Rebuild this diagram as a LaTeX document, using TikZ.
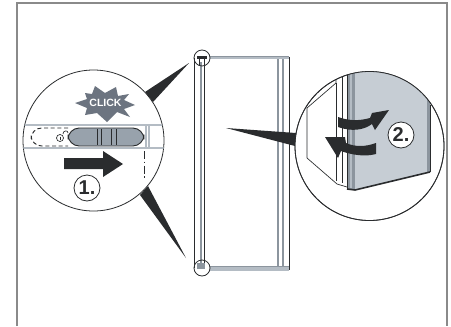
\documentclass[tikz,border=0pt]{standalone}
\usepackage{fontspec}
\setmainfont{Liberation Sans}
\definecolor{cframe}{HTML}{8A8A8A}
\definecolor{cband}{HTML}{B4BCC4}
\definecolor{cslide}{HTML}{98A2AC}
\definecolor{cstar}{HTML}{6C7480}
\definecolor{cpanel}{HTML}{C6CDD4}
\definecolor{cedge}{HTML}{8C959E}
\definecolor{cink}{HTML}{2A2C2E}
\tikzset{
  every picture/.style={x=0.75pt, y=-0.75pt},
  lens/.style={draw=cink, fill=white, line width=0.6pt},
  pointer/.style={fill=cink},
  band/.style={draw=cband, line width=1.1pt},
  inkline/.style={draw=cink, line width=0.7pt},
  stepmark/.style={circle, draw=cink, fill=white, line width=0.6pt, minimum size=19.5pt, inner sep=0pt, font=\fontsize{15}{16}\selectfont\bfseries, text=cink},
}
\begin{document}
\begin{tikzpicture}
  \useasboundingbox (0,0) rectangle (451,326);
  \draw[cframe, line width=1.3pt] (17,326) -- (17,3) -- (447,3) -- (447,326);
  % door
  \draw[inkline] (194.5,58) -- (194.5,268);
  \draw[cedge, line width=1.6pt] (201,62) -- (201,264);
  \draw[inkline] (204.5,62) -- (204.5,264);
  \draw[cband, line width=2pt] (210,58) -- (289,58);
  \draw[cedge, line width=0.5pt] (210,56.5) -- (289,56.5);
  \fill[cband] (210,266) rectangle (289,271);
  \draw[cedge, line width=0.5pt] (210,266) -- (289,266);
  \draw[cedge, line width=1.6pt] (278,59) -- (278,266);
  \draw[cedge, line width=1.2pt] (283,59) -- (283,266);
  \draw[inkline] (289,57) -- (289,270);
  \fill[cedge] (197,263) rectangle (205,269);
  \draw[lens, fill=none] (202,58) circle (8);
  \draw[lens, fill=none] (202,268) circle (8);
  \fill[cink] (197,56) rectangle (207,59);
  \draw[inkline] (199.5,59) -- (199.5,66) (204.5,59) -- (204.5,66);
  % pointers
  \fill[pointer] (189,63) -- (145,92) -- (153,102) -- cycle;
  \fill[pointer] (186,258) -- (140,195) -- (148,186) -- cycle;
  \fill[pointer] (226,128) -- (296,133) -- (295,146) -- cycle;
  % left lens
  \draw[lens] (93.5,140.5) circle (70.5);
  \begin{scope}
    \clip (93.5,140.5) circle (70.5);
    \draw[band] (20,125) -- (170,125);
    \draw[band] (20,148) -- (170,148);
    \draw[band] (146,125) -- (146,148);
    \draw[band] (149,125) -- (149,148);
  \end{scope}
  \draw[inkline, densely dashed, rounded corners=8pt] (68,128) -- (31,128) -- (31,146) -- (68,146);
  \draw[inkline, fill=cslide, rounded corners=8.5pt] (68,128) rectangle (144,146);
  \draw[inkline] (97,129) -- (97,145) (101,129) -- (101,145) (111,129) -- (111,145) (116,129) -- (116,145);
  \draw[inkline, line width=0.5pt] (60,138) circle (3.5);
  \draw[inkline, line width=0.5pt] (60,136.5) -- (60,139.5);
  \draw[inkline, line width=0.5pt] (63,134) .. controls (63,130) and (68,130) .. (68,133);
  \fill[cstar] (95,86) -- (105,93) -- (116,87) -- (118,96) -- (129,94) -- (124,100)
    -- (135,105) -- (124,109) -- (130,117) -- (117,112) -- (107,122) -- (97,113)
    -- (85,115) -- (87,108) -- (75,103) -- (87,99) -- (85,93) -- (92,94) -- cycle;
  \node[text=white, font=\fontsize{7.9}{8}\selectfont\bfseries, inner sep=0pt] (click) at (105.5,103) {CLICK};
  \fill[cink] (64,158) -- (103,158) -- (103,151) -- (123,164) -- (103,177) -- (103,169) -- (64,169) -- cycle;
  \draw[inkline, dash pattern=on 6pt off 2pt on 1pt off 2pt] (144,151) -- (144,179);
  \node[stepmark] (first) at (87,188) {1.};
  % right lens
  \draw[lens] (369.5,146) circle (74.5);
  \begin{scope}
    \clip (369.5,146) circle (74.5);
    \draw[inkline, line width=0.5pt] (307,108) -- (336,83) -- (336,60);
    \draw[inkline, line width=0.5pt] (307,108) -- (307,158) -- (337,184) -- (347,187);
    \draw[inkline, line width=0.5pt] (336,83) -- (336,181);
    \draw[inkline, line width=0.5pt] (342,60) -- (342,183);
    \fill[cedge] (347,60) -- (355,60) -- (355,190) -- (347,189) -- cycle;
    \draw[inkline] (347,60) -- (347,189);
    \draw[cband, line width=1pt] (351,60) -- (351,188);
    \fill[cpanel] (355,60) -- (427,60) -- (427,173) -- (355,190) -- cycle;
    \fill[cedge] (427,60) -- (430,60) -- (430,172) -- (427,173) -- cycle;
    \draw[inkline] (430,105) -- (430,172);
    \draw[cink, line width=1.2pt] (347,189) -- (355,190) -- (430,172);
    \fill[cink] (338,117) .. controls (352,122) and (362,120) .. (370,118) -- (372,113) -- (389,110)
      -- (375,130) -- (372,124) .. controls (364,130) and (352,132) .. (338,127) -- cycle;
    \fill[cink] (376,143) .. controls (365,147) and (355,147) .. (346,143) -- (345,137) -- (325,137)
      -- (338,158) -- (341,151) .. controls (352,155) and (365,157) .. (376,154) -- cycle;
  \end{scope}
  \draw[cink, line width=0.6pt] (369.5,146) circle (74.5);
  \node[stepmark] (second) at (401,135) {2.};
\end{tikzpicture}
\end{document}
